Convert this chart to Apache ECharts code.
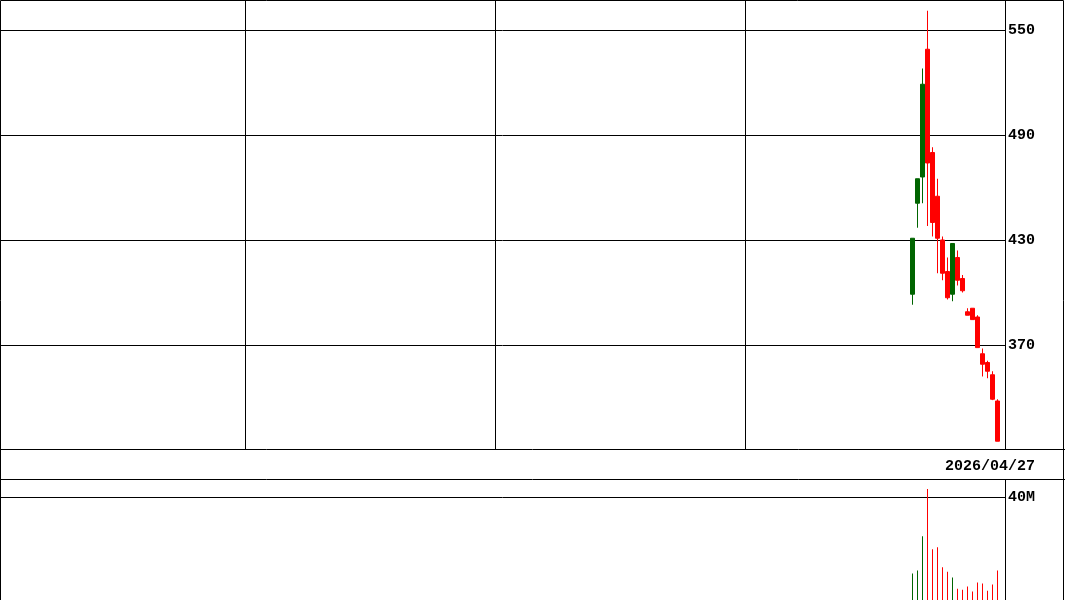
<!DOCTYPE html>
<html><head><meta charset="utf-8">
<script src="https://cdn.jsdelivr.net/npm/echarts@6/dist/echarts.min.js"></script>
<style>html,body{margin:0;padding:0;background:#fff}#c{width:1065px;height:600px}</style>
</head><body><div id="c"></div>
<script>
// ---- data ----
const firstSlot = 182;          // slot index of the first trading day
const totalSlots = 201;         // slots on the time axis
const openP  = [399, 451, 466, 539, 480, 455, 430, 412, 399, 420, 408, 389, 391, 386, 365, 360, 353, 338];
const closeP = [431, 465, 519, 474, 440, 431, 411, 397, 428, 407, 401, 387, 384.5, 368.5, 359, 355, 339, 315];
const lowP   = [393, 437, 451, 438, 432, 411, 407, 396, 395, 404, 400, 387, 384.5, 368.5, 352, 351, 338.5, 315];
const highP  = [431, 465, 528, 561, 483, 465, 432, 420, 428, 424, 410, 391, 391, 387, 368, 361, 355, 339];
const volumeM = [10.3, 11.5, 24.8, 43.1, 19.7, 20.5, 12.7, 11.0, 8.7, 4.4, 4.0, 5.2, 3.3, 6.8, 6.4, 3.6, 6.0, 11.5];
const priceTickLabels = [370, 430, 490, 550];
const volumeTickLabels = [40];
const timeGridSlots = [49, 99, 149];
const lastDateLabel = '2026/04/27';

// ---- build ----
const UP = '#006400', DOWN = '#ff0000';
const FONT = 'Liberation Mono';
const slots = [];
for (let i = 0; i < totalSlots; i++) slots.push(String(i));
const candles = openP.map((o, k) => [firstSlot + k, o, closeP[k], lowP[k], highP[k]]);
const vols = volumeM.map((v, k) => ({
  value: [firstSlot + k, v],
  itemStyle: { color: closeP[k] >= openP[k] ? UP : DOWN }
}));

const chart = echarts.init(document.getElementById('c'), null, { renderer: 'canvas' });
const xBase = {
  type: 'category', data: slots, boundaryGap: true,
  axisLine: { show: false }, axisTick: { show: false }, axisLabel: { show: false }
};
const labelStyle = { margin: 3, color: '#000', fontFamily: FONT, fontSize: 15, fontWeight: 'bold',
  verticalAlign: 'middle', padding: [4, 0, 0, 0] };
chart.setOption({
  animation: false,
  backgroundColor: '#fff',
  grid: [
    { left: 0, top: 0, width: 1005, height: 450, show: false },
    { left: 0, top: 479, width: 1005, height: 121, show: false }
  ],
  xAxis: [
    Object.assign({}, xBase, { gridIndex: 0,
      splitLine: { show: true, interval: (i) => timeGridSlots.indexOf(i) >= 0,
        lineStyle: { color: '#000', width: 1 } } }),
    Object.assign({}, xBase, { gridIndex: 1, splitLine: { show: false } })
  ],
  yAxis: [
    { gridIndex: 0, type: 'value', position: 'right', min: 310, max: 567.14, interval: 60,
      axisLine: { show: false }, axisTick: { show: false },
      splitLine: { show: true, showMinLine: false, showMaxLine: false, lineStyle: { color: '#000', width: 1 } },
      axisLabel: Object.assign({}, labelStyle, {
        formatter: (v) => priceTickLabels.indexOf(Math.round(v)) >= 0 ? String(Math.round(v)) : '' }) },
    { gridIndex: 1, type: 'value', position: 'right', min: 0, max: 47, interval: 40,
      axisLine: { show: false }, axisTick: { show: false },
      splitLine: { show: true, showMinLine: false, showMaxLine: false, lineStyle: { color: '#000', width: 1 } },
      axisLabel: Object.assign({}, labelStyle, {
        formatter: (v) => volumeTickLabels.indexOf(Math.round(v)) >= 0 ? Math.round(v) + 'M' : '' }) }
  ],
  series: [
    { type: 'candlestick', xAxisIndex: 0, yAxisIndex: 0, data: candles,
      encode: { x: 0, y: [1, 2, 3, 4] }, barWidth: 4,
      itemStyle: { color: UP, color0: DOWN, borderColor: UP, borderColor0: DOWN, borderWidth: 1 } },
    { type: 'bar', xAxisIndex: 1, yAxisIndex: 1, data: vols, barWidth: 1,
      encode: { x: 0, y: 1 } }
  ],
  graphic: [
    { type: 'group', silent: true, z: 100, children: [
      { type: 'rect', shape: { x: 0.5, y: 0.5, width: 1063, height: 610 }, style: { fill: null, stroke: '#000', lineWidth: 1 } },
      { type: 'line', shape: { x1: 0, y1: 449.5, x2: 1065, y2: 449.5 }, style: { stroke: '#000', lineWidth: 1 } },
      { type: 'line', shape: { x1: 0, y1: 479.5, x2: 1065, y2: 479.5 }, style: { stroke: '#000', lineWidth: 1 } },
      { type: 'line', shape: { x1: 1005.5, y1: 0, x2: 1005.5, y2: 449.5 }, style: { stroke: '#000', lineWidth: 1 } },
      { type: 'line', shape: { x1: 1005.5, y1: 479.5, x2: 1005.5, y2: 600 }, style: { stroke: '#000', lineWidth: 1 } }
    ] },
    { type: 'text', x: 1035, y: 466, z: 100,
      style: { text: lastDateLabel, fill: '#000', font: 'bold 15px "Liberation Mono"', textAlign: 'right', textVerticalAlign: 'middle' } }
  ]
});
</script></body></html>
